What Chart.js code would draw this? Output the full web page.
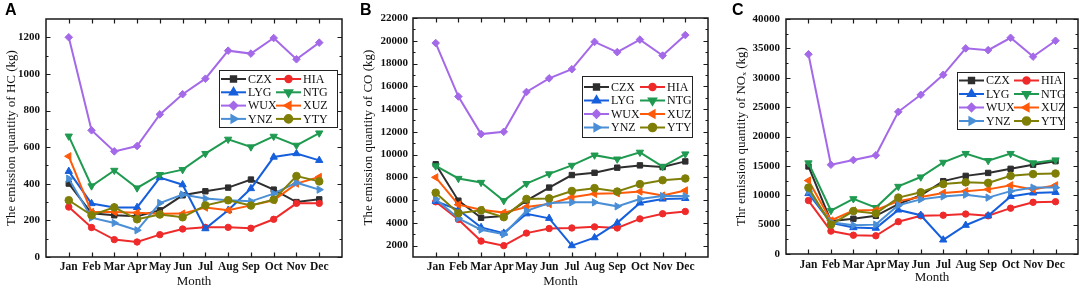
<!DOCTYPE html>
<html><head><meta charset="utf-8">
<script src="https://cdn.jsdelivr.net/npm/chart.js@4.4.1/dist/chart.umd.min.js"></script>
<style>
html,body{margin:0;padding:0;background:#fff;}
body{width:1084px;height:290px;overflow:hidden;position:relative;}
.wrap{position:absolute;top:0;height:290px;}
.lbl{position:absolute;top:0;font:bold 16px 'Liberation Sans',Arial,sans-serif;color:#000;line-height:20px;}
</style></head><body>
<div class="wrap" style="left:0;width:360px"><canvas id="cA" width="360" height="290"></canvas></div>
<div class="wrap" style="left:360px;width:360px"><canvas id="cB" width="360" height="290"></canvas></div>
<div class="wrap" style="left:720px;width:364px"><canvas id="cC" width="364" height="290"></canvas></div>
<div class="lbl" style="left:5px">A</div>
<div class="lbl" style="left:360px">B</div>
<div class="lbl" style="left:732px">C</div>
<script>
const months = ['Jan','Feb','Mar','Apr','May','Jun','Jul','Aug','Sep','Oct','Nov','Dec'];
const stations = ['CZX','HIA','LYG','NTG','WUX','XUZ','YNZ','YTY'];

// Panel A: HC (kg)
const HC_CZX = [401,239,228,222,255,337,359,379,423,368,300,315];
const HC_HIA = [273,161,95,82,122,153,162,162,157,206,293,293];
const HC_LYG = [468,292,271,271,434,395,155,255,374,546,565,528];
const HC_NTG = [660,388,473,377,450,477,565,643,601,659,610,677];
const HC_WUX = [1200,692,577,606,779,889,974,1127,1111,1196,1080,1171];
const HC_XUZ = [550,246,246,242,236,237,270,255,282,310,401,437];
const HC_YNZ = [428,215,186,146,295,341,319,310,304,346,406,368];
const HC_YTY = [310,228,271,206,232,217,282,310,281,313,442,413];
const HC_TICKS = [0,200,400,600,800,1000,1200];

// Panel B: CO (kg)
const CO_CZX = [9150,5950,4450,4600,5950,7100,8200,8400,8850,9050,8900,9400];
const CO_HIA = [5850,4300,2400,2000,3100,3500,3550,3650,3550,4350,4800,5000];
const CO_LYG = [5900,5150,3600,3100,4800,4400,2000,2700,4000,5750,6100,6150];
const CO_NTG = [9000,7900,7550,5950,7450,8300,9050,9950,9600,10200,8950,10050];
const CO_WUX = [19800,15100,11800,12000,15500,16700,17500,19900,19000,20100,18700,20500];
const CO_XUZ = [8000,5600,5150,4900,5400,5650,6250,6550,6600,6750,6400,6850];
const CO_YNZ = [6100,4400,3400,3000,5050,5750,5800,5800,5450,6100,6350,6350];
const CO_YTY = [6650,4850,5100,4500,6100,6150,6800,7050,6750,7400,7750,7900];
const CO_TICKS = [2000,4000,6000,8000,10000,12000,14000,16000,18000,20000,22000];

// Panel C: NOx (kg)
const NOX_CZX = [14900,5600,6000,6500,8500,10000,12400,13300,13800,14500,15200,15800];
const NOX_HIA = [9100,3900,3200,3100,5500,6500,6600,6800,6500,7800,8800,8900];
const NOX_LYG = [10300,5300,4500,4400,7500,6600,2400,4900,6500,9800,10400,10500];
const NOX_NTG = [15500,7400,9400,7900,11500,13100,15600,17100,15900,17100,15500,16000];
const NOX_WUX = [34000,15200,16000,16800,24200,27100,30500,35000,34700,36800,33600,36300];
const NOX_XUZ = [12500,5700,7400,7500,9000,9700,10400,10700,11000,11700,11000,11700];
const NOX_YNZ = [10700,5400,4900,5000,8300,9300,9800,10100,9600,10700,11300,11300];
const NOX_YTY = [11300,5000,7300,6900,9600,10500,11900,12200,12100,13300,13600,13700];
const NOX_TICKS = [0,5000,10000,15000,20000,25000,30000,35000,40000];

const STYLE = {
  CZX:{color:'#2e2e2e', point:'rect', rot:0, r:3.8},
  HIA:{color:'#ee2a2a', point:'circle', rot:0, r:3.2},
  LYG:{color:'#165fdc', point:'triangle', rot:0, r:4.2},
  NTG:{color:'#1f9a50', point:'triangle', rot:180, r:4.2},
  WUX:{color:'#a469e8', point:'rectRot', rot:0, r:3.8},
  XUZ:{color:'#ff5a0a', point:'triangle', rot:270, r:4.2},
  YNZ:{color:'#4a8fd6', point:'triangle', rot:90, r:4.2},
  YTY:{color:'#7f7f08', point:'circle', rot:0, r:3.8}
};

Chart.defaults.font.family = "'Liberation Serif','Times New Roman',serif";
Chart.defaults.color = '#111';

const framePlugin = {
  id:'frame',
  afterDatasetsDraw(chart, args, o){
    const {ctx, chartArea:a, scales:{x,y}} = chart;
    ctx.save();
    ctx.strokeStyle = '#1a1a1a';
    ctx.lineWidth = 1.2;
    ctx.beginPath();
    x.ticks.forEach(t=>{
      const px = Math.round(x.getPixelForValue(t.value))+0.5;
      ctx.moveTo(px,a.bottom); ctx.lineTo(px,a.bottom-4.5);
      ctx.moveTo(px,a.top); ctx.lineTo(px,a.top+4.5);
    });
    y.ticks.forEach(t=>{
      const py = Math.round(y.getPixelForValue(t.value))+0.5;
      ctx.moveTo(a.left,py); ctx.lineTo(a.left+4.5,py);
      ctx.moveTo(a.right,py); ctx.lineTo(a.right-4.5,py);
    });
    const ms = o.minor;
    for(let v=Math.ceil(y.min/ms)*ms; v<y.max; v+=ms){
      if(v<=y.min) continue;
      if(y.ticks.some(t=>Math.abs(t.value-v)<1e-6)) continue;
      const py = Math.round(y.getPixelForValue(v))+0.5;
      ctx.moveTo(a.left,py); ctx.lineTo(a.left+2.5,py);
      ctx.moveTo(a.right,py); ctx.lineTo(a.right-2.5,py);
    }
    ctx.stroke();
    ctx.lineWidth = 1.5;
    ctx.strokeRect(a.left, a.top, a.right-a.left, a.bottom-a.top);
    ctx.restore();
  }
};

const boxLegend = {
  id:'boxLegend',
  afterDraw(chart, args, o){
    const ctx = chart.ctx;
    ctx.save();
    ctx.fillStyle = '#fff';
    ctx.fillRect(o.x, o.y, o.w, o.h);
    ctx.strokeStyle = '#222'; ctx.lineWidth = 1;
    ctx.strokeRect(o.x+0.5, o.y+0.5, o.w, o.h);
    chart.data.datasets.forEach((ds,i)=>{
      const col = i%2, row = Math.floor(i/2);
      const lx = o.x + 2 + col*o.colGap;
      const ly = o.y + o.row0 + row*o.rowGap;
      ctx.strokeStyle = ds.borderColor; ctx.lineWidth = 2;
      ctx.beginPath(); ctx.moveTo(lx, ly); ctx.lineTo(lx+25, ly); ctx.stroke();
      ctx.fillStyle = ds.backgroundColor;
      Chart.helpers.drawPoint(ctx, {pointStyle: ds.pointStyle, rotation: ds.pointRotation, radius: ds.pointRadius, borderWidth: 1}, lx+12.5, ly);
      ctx.fillStyle = '#111';
      ctx.font = "12px 'Liberation Serif'";
      ctx.textBaseline = 'middle'; ctx.textAlign = 'left';
      ctx.fillText(ds.label, lx+27, ly+0.5);
    });
    ctx.restore();
  }
};

function makeChart(id, series, cfg){
  const datasets = stations.map((s,i)=>{
    const st = STYLE[s];
    return {
      label: s,
      data: series[i].map((v,k)=>({x:k+1, y:v})),
      borderColor: st.color, backgroundColor: st.color,
      pointStyle: st.point, pointRotation: st.rot, pointRadius: st.r,
      pointBorderWidth: 1, borderWidth: 2, order: stations.length - i
    };
  });
  return new Chart(document.getElementById(id), {
    type:'line',
    data:{datasets},
    options:{
      responsive:false, animation:false, devicePixelRatio:1,
      layout:{padding:{top:cfg.top, right:cfg.right, left:0, bottom:0}},
      plugins:{legend:{display:false}, tooltip:{enabled:false}, frame:{minor:cfg.minor}, boxLegend:cfg.legend},
      scales:{
        x:{type:'linear', min:0, max:13,
          afterBuildTicks: sc => { sc.ticks = months.map((m,k)=>({value:k+1})); },
          afterFit: sc => { sc.height = cfg.xh; },
          grid:{display:false, drawTicks:false}, border:{display:false},
          ticks:{autoSkip:false, maxRotation:0, padding:cfg.xpad, font:{size:11.5, weight:'bold'}, color:'#111',
            callback: v => months[v-1]},
          title:{display:true, text:'Month', font:{size:13}, color:'#111', padding:{top:0,bottom:cfg.xtb}}
        },
        y:{type:'linear', min:cfg.ymin, max:cfg.ymax,
          afterBuildTicks: sc => { sc.ticks = cfg.ticks.map(v=>({value:v})); },
          afterFit: sc => { sc.width = cfg.yw; },
          grid:{display:false, drawTicks:false}, border:{display:false},
          ticks:{padding:cfg.ypad, font:{size:11, weight:'bold'}, color:'#111', callback: v => String(v)},
          title:{display:true, text:cfg.ytitle, font:{size:13}, color:'#111', padding:{top:cfg.ytp,bottom:0}}
        }
      }
    },
    plugins:[framePlugin, boxLegend]
  });
}

makeChart('cA', [HC_CZX,HC_HIA,HC_LYG,HC_NTG,HC_WUX,HC_XUZ,HC_YNZ,HC_YTY], {
  top:19, right:18, yw:46, xh:33, ymin:0, ymax:1300, ticks:HC_TICKS, minor:100,
  xpad:3, xtb:1, ypad:6, ytp:4, ytitle:'The emission quantity of HC (kg)',
  legend:{x:219, y:70, w:118, h:57, row0:9, rowGap:13.3, colGap:55}
});
makeChart('cB', [CO_CZX,CO_HIA,CO_LYG,CO_NTG,CO_WUX,CO_XUZ,CO_YNZ,CO_YTY], {
  top:18, right:12, yw:53, xh:33, ymin:1000, ymax:22000, ticks:CO_TICKS, minor:1000,
  xpad:3, xtb:1, ypad:5, ytp:1, ytitle:'The emission quantity of CO (kg)',
  legend:{x:222, y:76, w:110, h:61, row0:11, rowGap:13.5, colGap:56}
});
makeChart('cC', [NOX_CZX,NOX_HIA,NOX_LYG,NOX_NTG,NOX_WUX,NOX_XUZ,NOX_YNZ,NOX_YTY], {
  top:19, right:6, yw:66, xh:36, ymin:0, ymax:40000, ticks:NOX_TICKS, minor:2500,
  xpad:4, xtb:5, ypad:6, ytp:14, ytitle:'Thr emission quantity of NOₓ (kg)',
  legend:{x:237, y:72, w:107, h:57, row0:8.5, rowGap:13.5, colGap:55}
});
</script>
</body></html>
